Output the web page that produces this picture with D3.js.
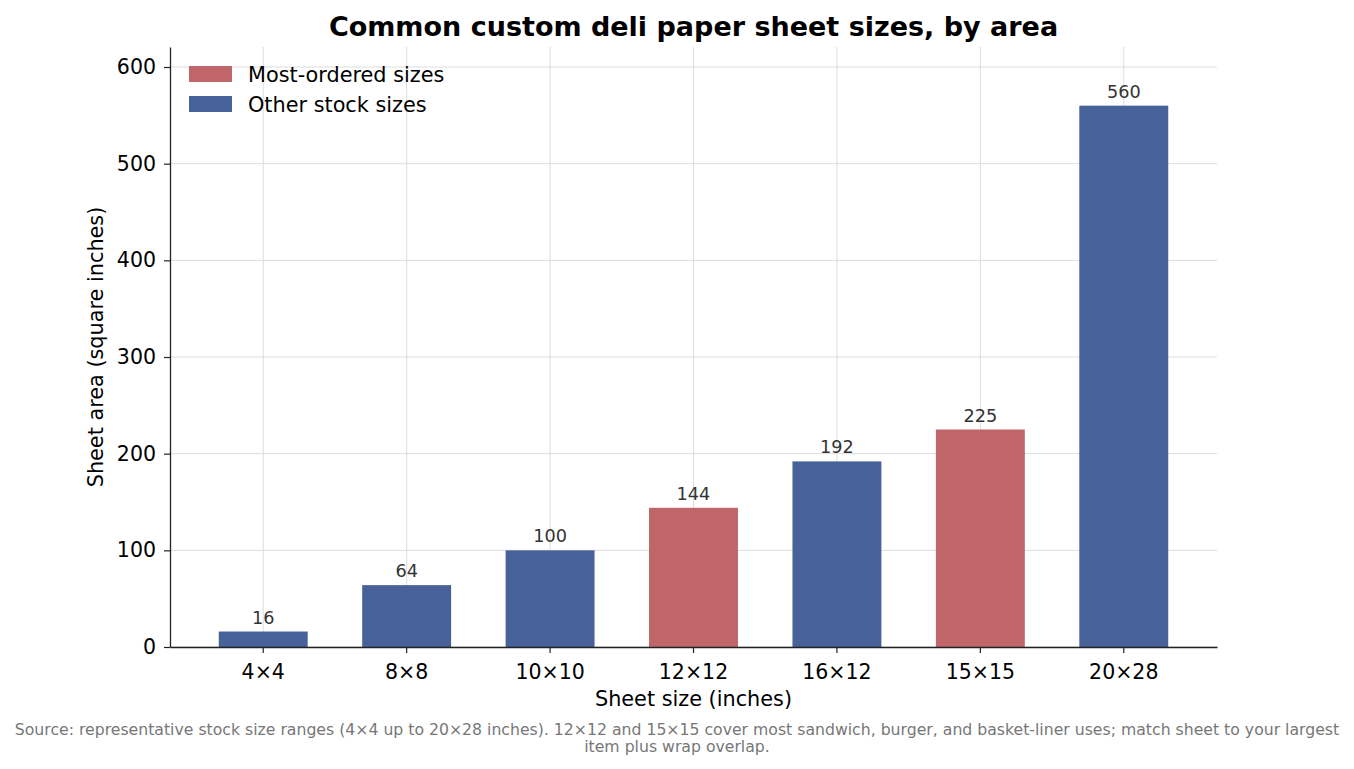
<!DOCTYPE html>
<html>
<head>
<meta charset="utf-8">
<script src="https://cdn.jsdelivr.net/npm/d3@7"></script>
<style>
  body { margin: 0; background: #fff; }
  svg { font-family: "DejaVu Sans", sans-serif; }
</style>
</head>
<body>
<div id="chart"></div>
<script>
// Sheet sizes and their areas
const sizes = ["4×4", "8×8", "10×10", "12×12", "16×12", "15×15", "20×28"];
const areas = [16, 64, 100, 144, 192, 225, 560];
const popular = [false, false, false, true, false, true, false];
const yTicks = [0, 100, 200, 300, 400, 500, 600];

const colors = { popular: "#c0666a", other: "#476199" };

const W = 1354, H = 769;
const plot = { left: 170, right: 1217, top: 47, bottom: 647 };

const svg = d3.select("#chart").append("svg")
    .attr("width", W)
    .attr("height", H);

const x = d3.scaleBand()
    .domain(sizes)
    .range([plot.left, plot.right])
    .paddingInner(0.38)
    .paddingOuter(0.34);

const y = d3.scaleLinear()
    .domain([0, 620.7])
    .range([plot.bottom, plot.top]);

// grid lines
svg.append("g")
    .selectAll("line")
    .data(yTicks)
    .join("line")
    .attr("x1", plot.left).attr("x2", plot.right)
    .attr("y1", d => y(d)).attr("y2", d => y(d))
    .attr("stroke", "#dddddd").attr("stroke-width", 1);

svg.append("g")
    .selectAll("line")
    .data(sizes)
    .join("line")
    .attr("x1", d => x(d) + x.bandwidth() / 2).attr("x2", d => x(d) + x.bandwidth() / 2)
    .attr("y1", plot.top).attr("y2", plot.bottom)
    .attr("stroke", "#dddddd").attr("stroke-width", 1);

// bars
svg.append("g")
    .selectAll("rect")
    .data(areas)
    .join("rect")
    .attr("x", (d, i) => x(sizes[i]))
    .attr("y", d => y(d))
    .attr("width", x.bandwidth())
    .attr("height", d => y(0) - y(d))
    .attr("fill", (d, i) => popular[i] ? colors.popular : colors.other);

// value labels
svg.append("g")
    .selectAll("text")
    .data(areas)
    .join("text")
    .attr("x", (d, i) => x(sizes[i]) + x.bandwidth() / 2)
    .attr("y", d => y(d) - 8)
    .attr("text-anchor", "middle")
    .attr("font-size", "17.7px")
    .attr("fill", "#333333")
    .text(d => d);

// axes
const xAxis = svg.append("g")
    .attr("transform", `translate(0,${plot.bottom})`)
    .call(d3.axisBottom(x).tickSize(6).tickSizeOuter(0).tickPadding(11));
xAxis.select(".domain").attr("stroke", "#222").attr("stroke-width", 1.3);
xAxis.selectAll(".tick line").attr("stroke", "#222").attr("stroke-width", 1.2);
xAxis.selectAll("text").attr("font-size", "20.5px").attr("fill", "#000").attr("font-family", "DejaVu Sans");

const yAxis = svg.append("g")
    .attr("transform", `translate(${plot.left},0)`)
    .call(d3.axisLeft(y).tickValues(yTicks).tickSize(6).tickSizeOuter(0).tickPadding(8));
yAxis.select(".domain").attr("stroke", "#222").attr("stroke-width", 1.3);
yAxis.selectAll(".tick line").attr("stroke", "#222").attr("stroke-width", 1.2);
yAxis.selectAll("text").attr("font-size", "20.5px").attr("fill", "#000").attr("font-family", "DejaVu Sans");

// titles
svg.append("text")
    .attr("x", (plot.left + plot.right) / 2)
    .attr("y", 36)
    .attr("text-anchor", "middle")
    .attr("font-size", "27px")
    .attr("font-weight", "bold")
    .text("Common custom deli paper sheet sizes, by area");

svg.append("text")
    .attr("x", (plot.left + plot.right) / 2)
    .attr("y", 706)
    .attr("text-anchor", "middle")
    .attr("font-size", "20.8px")
    .text("Sheet size (inches)");

svg.append("text")
    .attr("transform", `translate(103,${(plot.top + plot.bottom) / 2}) rotate(-90)`)
    .attr("text-anchor", "middle")
    .attr("font-size", "20.8px")
    .text("Sheet area (square inches)");

// legend
const legendItems = [
    { label: "Most-ordered sizes", color: colors.popular },
    { label: "Other stock sizes", color: colors.other }
];
const legend = svg.append("g").attr("transform", "translate(189,66)");
legendItems.forEach((item, i) => {
    const g = legend.append("g").attr("transform", `translate(0,${i * 30})`);
    g.append("rect").attr("width", 43).attr("height", 16).attr("fill", item.color);
    g.append("text")
        .attr("x", 59).attr("y", 16)
        .attr("font-size", "20.8px")
        .text(item.label);
});

// source note
const note = svg.append("text")
    .attr("text-anchor", "middle")
    .attr("font-size", "15.7px")
    .attr("fill", "#777777");
note.append("tspan").attr("x", 677).attr("y", 735)
    .text("Source: representative stock size ranges (4×4 up to 20×28 inches). 12×12 and 15×15 cover most sandwich, burger, and basket-liner uses; match sheet to your largest");
note.append("tspan").attr("x", 677).attr("y", 752)
    .text("item plus wrap overlap.");
</script>
</body>
</html>
